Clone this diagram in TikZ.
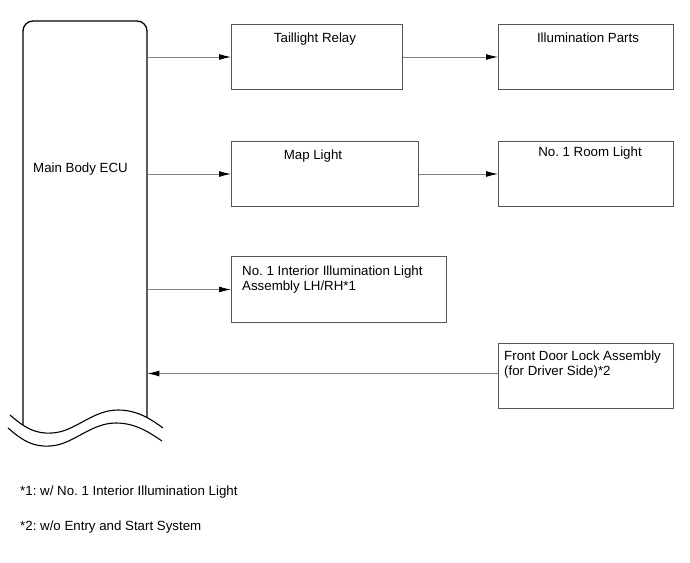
\documentclass[tikz,border=0pt]{standalone}
\usepackage{fontspec}
\setmainfont{Liberation Sans}
\frenchspacing
\usetikzlibrary{arrows.meta}
\definecolor{boxgray}{HTML}{555555}
\definecolor{linegray}{HTML}{808080}
\tikzset{
  blk/.style={draw=boxgray, line width=1pt, rectangle, inner sep=0pt, anchor=north west},
  arr/.style={draw=linegray, line width=0.9pt, -{Latex[length=12pt,width=6pt,color=black]}},
  lbl/.style={inner sep=0pt, font=\fontsize{13.3}{15}\selectfont},
  eculine/.style={draw=black, line width=1.3pt},
}
\begin{document}
\begin{tikzpicture}[x=1pt,y=-1pt]
\useasboundingbox (0,0) rectangle (690,562);
% ECU outline
\node[inner sep=0pt, minimum width=124pt, minimum height=404pt, anchor=north west] (ecu) at (23,21) {};
\draw[eculine] (23,425) -- (23,31) arc[start angle=180, end angle=90, radius=10pt] -- (137,21)
  arc[start angle=90, end angle=0, radius=10pt] -- (147,417);
\draw[eculine, line width=1.1pt] (10,415) .. controls (25,428) and (35,434) .. (52,433)
  .. controls (75,432) and (92,410) .. (118,410) .. controls (138,410) and (152,420) .. (163,428);
\draw[eculine, line width=1.1pt] (8,428) .. controls (23,441) and (33,447) .. (50,446)
  .. controls (73,445) and (90,423) .. (116,423) .. controls (136,423) and (150,433) .. (162,441);
\node[lbl, anchor=base west] (ecut) at (33,172) {Main Body ECU};
% boxes
\node[blk, minimum width=171pt, minimum height=65pt] (tr) at (231,24) {};
\node[blk, minimum width=175pt, minimum height=65pt] (ip) at (498,24) {};
\node[blk, minimum width=187pt, minimum height=65pt] (ml) at (231,141) {};
\node[blk, minimum width=175pt, minimum height=65pt] (rl) at (498,141) {};
\node[blk, minimum width=215pt, minimum height=66pt] (ni) at (231,256) {};
\node[blk, minimum width=175pt, minimum height=65pt] (fd) at (498,343) {};
% labels
\node[lbl, anchor=base] (trt) at (315,42) {Taillight Relay};
\node[lbl, anchor=base] (ipt) at (588,42) {Illumination Parts};
\node[lbl, anchor=base] (mlt) at (313,159) {Map Light};
\node[lbl, anchor=base] (rlt) at (590,156) {No. 1 Room Light};
\node[lbl, anchor=north west, align=left] (nit) at (242,265.3) {No. 1 Interior Illumination Light\\Assembly LH/RH*1};
\node[lbl, anchor=north west, align=left] (fdt) at (504,350.3) {Front Door Lock Assembly\\(for Driver Side)*2};
% connectors
\draw[arr] (ecu.east |- tr.west) -- (tr.west);
\draw[arr] (tr.east) -- (ip.west);
\draw[arr] (ecu.east |- ml.west) -- (ml.west);
\draw[arr] (ml.east |- rl.west) -- (rl.west);
\draw[arr] (ecu.east |- ni.west) -- (ni.west);
\draw[arr] ([yshift=2.5pt]fd.west) -- ([yshift=2.5pt]fd.west -| ecu.east);
% notes
\node[lbl, anchor=base west] (n1) at (20,495) {*1: w/ No. 1 Interior Illumination Light};
\node[lbl, anchor=base west] (n2) at (20,530) {*2: w/o Entry and Start System};
\end{tikzpicture}
\end{document}
